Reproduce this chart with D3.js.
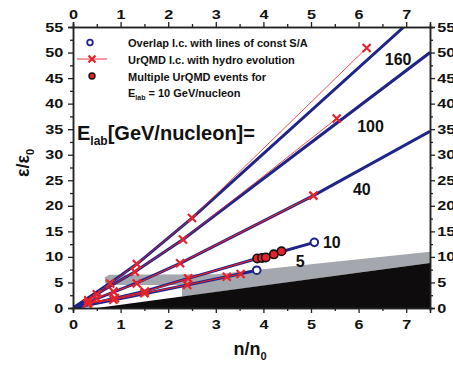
<!DOCTYPE html>
<html>
<head>
<meta charset="utf-8">
<script src="https://cdn.jsdelivr.net/npm/d3@7"></script>
<style>
  body { margin: 0; background: #fff; }
  svg { display: block; }
  text { font-family: "Liberation Sans", Arial, sans-serif; font-weight: bold; fill: #111; }
</style>
</head>
<body>
<div id="chart"></div>
<script>
// tick labels
var xTicks = [0, 1, 2, 3, 4, 5, 6, 7];
var yTicks = [0, 5, 10, 15, 20, 25, 30, 35, 40, 45, 50, 55];

// lines of constant S/A (blue), one per E_lab, points are [n/n0, eps/eps0]
var sa160 = [[0, 0], [0.78, 4.9], [1.34, 8.6], [2.5, 17.6], [6.95, 55]];
var sa100 = [[0, 0], [1.30, 7.1], [2.31, 13.4], [7.5, 50.0]];
var sa40  = [[0, 0], [1.34, 4.9], [2.25, 8.75], [5.05, 22.0], [7.5, 34.6]];
var sa10  = [[0, 0], [1.51, 3.3], [2.42, 5.8], [3.87, 9.7], [5.07, 12.85]];
var sa5   = [[0, 0], [1.5, 2.8], [2.40, 4.5], [3.23, 6.1], [3.86, 7.4]];

// UrQMD initial conditions with hydro evolution (red)
var uq160 = [[0.32, 1.5], [0.78, 4.8], [1.34, 8.6], [2.5, 17.6], [6.17, 50.9]];
var uq100 = [[0.5, 2.7], [1.30, 7.1], [2.31, 13.4], [5.54, 37.1]];
var uq40  = [[0.5, 1.9], [0.85, 3.2], [1.34, 4.8], [2.25, 8.75], [5.05, 22.0]];
var uq10  = [[0.32, 1.0], [0.88, 1.9], [1.51, 3.2], [2.42, 5.8], [3.87, 9.7]];
var uq5   = [[0.3, 0.9], [0.85, 1.6], [1.5, 2.9], [2.40, 4.5], [3.23, 6.1], [3.52, 6.65]];

// multiple UrQMD events for E_lab = 10 GeV/nucleon
var multiEvents = [[3.87, 9.7], [3.97, 9.8], [4.05, 9.9], [4.22, 10.5], [4.38, 11.1]];

// shaded regions
var shadeGray  = [[0.72, 4.5], [0.67, 5.0], [0.67, 6.0], [0.76, 6.5], [3.0, 6.6], [7.5, 11.0],
                  [7.5, 8.8], [2.29, 2.2], [2.29, 4.5]];
var shadeBlack = [[0.5, 0], [7.5, 8.8], [7.5, 0]];

var energies = ["160", "100", "40", "10", "5"];

var margin = {top: 27, right: 23, bottom: 59, left: 73},
    width = 453 - margin.left - margin.right,
    height = 367 - margin.top - margin.bottom;

var blue = "#1f2588", red = "#e8222b";

var svg = d3.select("#chart").append("svg")
    .attr("width", 453).attr("height", 367)
  .append("g")
    .attr("transform", "translate(" + margin.left + "," + margin.top + ")");

var x = d3.scaleLinear().domain([0, 7.5]).range([0, width]);
var y = d3.scaleLinear().domain([0, 55]).range([height, 0]);

svg.append("clipPath").attr("id", "clip")
  .append("rect").attr("width", width).attr("height", height);

var plot = svg.append("g").attr("clip-path", "url(#clip)");

var poly = d3.line().x(function (d) { return x(d[0]); }).y(function (d) { return y(d[1]); });

plot.append("path").attr("d", poly(shadeGray) + "Z").attr("fill", "#a4a7ad");
plot.append("path").attr("d", poly(shadeBlack) + "Z").attr("fill", "#0e0c0c");

// blue lines
[sa160, sa100, sa40, sa10, sa5].forEach(function (s) {
  plot.append("path").attr("d", poly(s))
    .attr("fill", "none").attr("stroke", blue).attr("stroke-width", 3)
    .attr("stroke-linejoin", "round");
});

// red lines with x markers
function xMark(g, px, py, h) {
  g.append("path")
    .attr("d", "M" + (px - h) + "," + (py - h) + "L" + (px + h) + "," + (py + h) +
               "M" + (px - h) + "," + (py + h) + "L" + (px + h) + "," + (py - h))
    .attr("stroke", red).attr("stroke-width", 2.2).attr("fill", "none");
}
[uq160, uq100, uq40, uq10, uq5].forEach(function (s, i) {
  plot.append("path").attr("d", poly(s))
    .attr("fill", "none").attr("stroke", red).attr("stroke-width", i < 2 ? 0.8 : 1.1);
  s.forEach(function (p, j) {
    if (s === uq10 && j === s.length - 1) return;
    xMark(plot, x(p[0]), y(p[1]), 4);
  });
});

// open circles at the end of the 10 and 5 lines
[sa10, sa5].forEach(function (s) {
  var p = s[s.length - 1];
  plot.append("circle").attr("cx", x(p[0])).attr("cy", y(p[1])).attr("r", 3.8)
    .attr("fill", "#fff").attr("stroke", blue).attr("stroke-width", 2);
});

// multiple events
plot.selectAll(".ev").data(multiEvents).enter().append("circle")
  .attr("class", "ev")
  .attr("cx", function (d) { return x(d[0]); })
  .attr("cy", function (d) { return y(d[1]); })
  .attr("r", 4.2)
  .attr("fill", red).attr("stroke", "#111").attr("stroke-width", 1.6);

// energy labels
var labelPos = [[6.55, 47.6], [5.97, 34.4], [5.88, 22.1], [5.25, 11.7], [4.68, 8.0]];
energies.forEach(function (e, i) {
  svg.append("text").attr("x", x(labelPos[i][0])).attr("y", y(labelPos[i][1]))
    .style("font-size", "16px").text(e);
});

// axes
var minorX = d3.range(0.5, 7.5, 1), minorY = d3.range(2.5, 55, 5);
function styleAxis(g, labelTransform) {
  g.select(".domain").attr("stroke", "#222").attr("stroke-width", 1.5);
  g.selectAll("line").attr("stroke", "#222").attr("stroke-width", 1.3);
  g.selectAll("text").style("font-size", "12.5px").attr("fill", "#111")
    .attr("transform", labelTransform);
}
var axes = [
  {axis: d3.axisBottom(x), t: "translate(0," + height + ")", ticks: xTicks, minor: minorX, pad: 7, tr: "scale(1.3,1)"},
  {axis: d3.axisTop(x), t: "translate(0,0)", ticks: xTicks, minor: minorX, pad: 3, tr: "scale(1.3,1)"},
  {axis: d3.axisLeft(y), t: "translate(0,0)", ticks: yTicks, minor: minorY, pad: 2.5, tr: "scale(1.3,1)"},
  {axis: d3.axisRight(y), t: "translate(" + width + ",0)", ticks: yTicks, minor: minorY, pad: 0.5, tr: "scale(1.3,1)"}
];
axes.forEach(function (a) {
  svg.append("g").attr("transform", a.t)
    .call(a.axis.tickValues(a.minor).tickSize(3).tickFormat(""))
    .call(function (g) { styleAxis(g, null); });
  svg.append("g").attr("transform", a.t)
    .call(a.axis.tickValues(a.ticks).tickSize(5).tickPadding(a.pad).tickFormat(d3.format("d")))
    .call(function (g) { styleAxis(g, a.tr); });
});

// axis titles
var yt = svg.append("text").attr("transform", "translate(" + (29 - margin.left) + "," + (163 - margin.top) + ") rotate(-90)")
  .attr("text-anchor", "middle").style("font-size", "18px");
yt.append("tspan").text("\u03b5/\u03b5");
yt.append("tspan").attr("dy", 5).style("font-size", "11px").text("0");

var xt = svg.append("text").attr("x", 250 - margin.left).attr("y", 355 - margin.top)
  .attr("text-anchor", "middle").style("font-size", "18px");
xt.append("tspan").text("n/n");
xt.append("tspan").attr("dy", 5).style("font-size", "11px").text("0");

// E_lab title
var et = svg.append("text").attr("x", 77 - margin.left).attr("y", 140 - margin.top).style("font-size", "20px");
et.append("tspan").text("E");
et.append("tspan").attr("dy", 5).style("font-size", "12px").text("lab");
et.append("tspan").attr("dy", -5).text("[GeV/nucleon]=");

// legend
var lg = svg.append("g").attr("transform", "translate(" + (-margin.left) + "," + (-margin.top) + ")");
lg.append("circle").attr("cx", 90).attr("cy", 42.5).attr("r", 2.8)
  .attr("fill", "#fff").attr("stroke", blue).attr("stroke-width", 1.8);
lg.append("line").attr("x1", 77).attr("x2", 107).attr("y1", 59).attr("y2", 59)
  .attr("stroke", red).attr("stroke-width", 0.9);
xMark(lg, 92, 59, 3.5);
lg.append("circle").attr("cx", 92).attr("cy", 76).attr("r", 3)
  .attr("fill", red).attr("stroke", "#111").attr("stroke-width", 1.4);
var legendText = ["Overlap I.c. with lines of const S/A", "UrQMD I.c. with hydro evolution", "Multiple UrQMD events for"];
var legendY = [47, 64, 81];
legendText.forEach(function (t, i) {
  lg.append("text").attr("x", 128).attr("y", legendY[i]).style("font-size", "11px").text(t);
});
var l4 = lg.append("text").attr("x", 128).attr("y", 97).style("font-size", "11px");
l4.append("tspan").text("E");
l4.append("tspan").attr("dy", 3).style("font-size", "7px").text("lab");
l4.append("tspan").attr("dy", -3).text(" = 10 GeV/nucleon");
</script>
</body>
</html>
